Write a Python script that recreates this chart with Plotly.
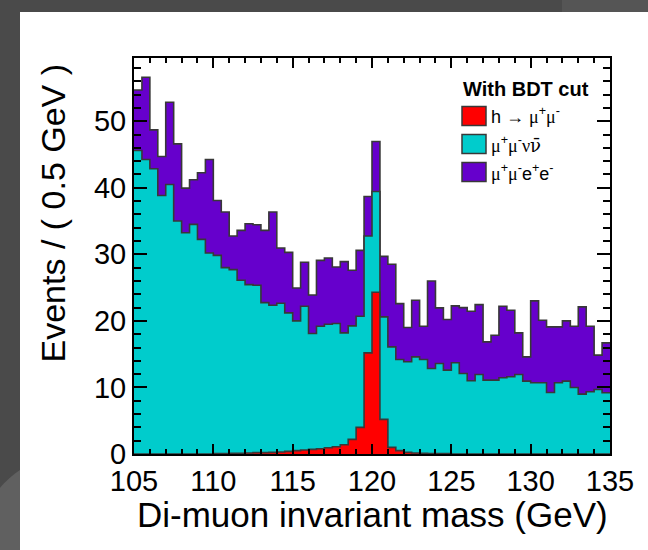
import numpy as np
import plotly.graph_objects as go

# ---------------- data (0.5 GeV bins, 105-135 GeV) ----------------
bin_low = 105.0
bin_width = 0.5
signal_h_mumu = [0, 0, 0, 0, 0, 0, 0, 0, 0, 0,
                 0.05, 0.05, 0.1, 0.1, 0.15, 0.2, 0.2, 0.25, 0.3, 0.4,
                 0.5, 0.6, 0.7, 0.8, 0.95, 1.1, 1.4, 2.2, 4.0, 15.2,
                 24.3, 5.2, 1.0, 0.5, 0.25, 0.15, 0.1, 0.05, 0.05, 0.05,
                 0, 0, 0, 0, 0, 0, 0, 0, 0, 0,
                 0, 0, 0, 0, 0, 0, 0, 0, 0, 0]
# cumulative top of (signal + mu mu nu nu)
cyan_top = [45.6, 44.25, 42.85, 38.85, 40.5, 35.0, 33.25, 34.5, 32.25, 30.2,
            29.85, 28.0, 27.7, 26.1, 25.45, 25.35, 22.75, 22.35, 22.65, 21.2,
            20.0, 22.2, 18.1, 19.2, 19.5, 19.6, 18.2, 19.25, 20.7, 32.75,
            39.45, 20.6, 16.1, 14.2, 13.85, 14.6, 14.2, 12.85, 13.6, 12.6,
            13.7, 12.1, 11.0, 11.95, 11.1, 11.1, 11.45, 11.6, 11.95, 10.95,
            10.7, 10.7, 9.25, 10.7, 10.95, 10.0, 9.0, 9.35, 9.7, 9.2]
# total stack height
total_top = [54.7, 56.6, 48.7, 44.7, 52.85, 46.6, 39.95, 41.2, 42.25, 44.25,
             38.1, 36.35, 32.75, 33.6, 34.6, 34.45, 33.6, 36.35, 30.95, 30.3,
             24.95, 28.8, 23.9, 29.1, 29.45, 28.1, 28.9, 27.6, 30.6, 38.7,
             46.95, 29.7, 28.5, 22.6, 19.0, 23.1, 19.2, 26.0, 21.95, 20.2,
             22.25, 22.0, 21.45, 22.45, 16.85, 17.85, 22.2, 21.6, 18.2, 14.6,
             23.0, 20.1, 19.1, 19.1, 20.0, 19.2, 22.1, 19.2, 14.85, 16.7]
bkg_mumununu = list(np.round(np.array(cyan_top) - np.array(signal_h_mumu), 3))
bkg_mumuee = list(np.round(np.array(total_top) - np.array(cyan_top), 3))

GR = "<span style=\"font-family:'Liberation Serif'\">"
NB = "<span style=\"font-family:'DejaVu Serif'\">"
series_names = [f"h \u2192 {GR}\u03bc</span><sup>+</sup>{GR}\u03bc</span><sup>-</sup>",
                f"{GR}\u03bc</span><sup>+</sup>{GR}\u03bc</span><sup>-</sup>{GR}\u03bd</span>{NB}\u03bd\u0304</span>",
                f"{GR}\u03bc</span><sup>+</sup>{GR}\u03bc</span><sup>-</sup>e<sup>+</sup>e<sup>-</sup>"]
legend_title = "<b>With BDT cut</b>"
x_title = "Di-muon invariant mass (GeV)"
y_title = "Events / ( 0.5 GeV )"

# ---------------- styling ----------------
W, H = 648, 550
ML, MR, MT, MB = 134, 38, 58, 96
colors = ["#ff0000", "#00cccc", "#6600cc"]
outline = "#383838"
FONT = "Liberation Sans, Arial, Helvetica, sans-serif"

nb = len(signal_h_mumu)
edges = bin_low + bin_width * np.arange(nb + 1)

s1 = np.array(signal_h_mumu, dtype=float)
s2 = s1 + np.array(bkg_mumununu, dtype=float)
s3 = s2 + np.array(bkg_mumuee, dtype=float)


def step(y):
    return list(y) + [y[-1]]


fig = go.Figure()
for cum, col, name in [(s3, colors[2], series_names[2]),
                       (s2, colors[1], series_names[1]),
                       (s1, colors[0], series_names[0])]:
    fig.add_trace(go.Scatter(
        x=edges, y=step(cum), mode="lines", line_shape="hv",
        line=dict(color=outline, width=1.6),
        fill="tozeroy", fillcolor=col, name=name, showlegend=False,
        hoverinfo="skip"))

pw = W - ML - MR
ph = H - MT - MB


def px(xp):
    return (xp - ML) / pw


def py(yp):
    return 1 - (yp - MT) / ph


shapes = [
    # white slide panel
    dict(type="rect", xref="paper", yref="paper", layer="below",
         x0=px(20), x1=px(W + 5), y0=py(H + 5), y1=py(12),
         fillcolor="white", line=dict(width=0)),
    # lighter gray swoosh lower-left
    dict(type="path", xref="paper", yref="paper", layer="below",
         path=f"M {px(-2)},{py(490)} Q {px(8)},{py(478)} {px(20)},{py(470)} "
              f"L {px(20)},{py(H + 5)} L {px(-2)},{py(H + 5)} Z",
         fillcolor="#606060", line=dict(width=0)),
    # lighter top-right corner
    dict(type="rect", xref="paper", yref="paper", layer="below",
         x0=px(562), x1=px(W + 5), y0=py(12), y1=py(-5),
         fillcolor="#555555", line=dict(width=0)),
]

annotations = []
# legend
leg_x0 = 462
annotations.append(dict(xref="paper", yref="paper", x=px(leg_x0 - 1), y=py(89),
                        xanchor="left", yanchor="middle", text=legend_title,
                        showarrow=False, font=dict(size=20, color="black", family=FONT)))
for i, (name, col) in enumerate(zip(series_names, colors)):
    yc = 116 + 28 * i
    shapes.append(dict(type="rect", xref="paper", yref="paper",
                       x0=px(leg_x0), x1=px(leg_x0 + 24),
                       y0=py(yc + 9.5), y1=py(yc - 9.5),
                       fillcolor=col, line=dict(color=outline, width=1.5)))
    annotations.append(dict(xref="paper", yref="paper", x=px(leg_x0 + 27), y=py(yc),
                            xanchor="left", yanchor="middle", text=name,
                            showarrow=False,
                            font=dict(size=18, color="black", family=FONT)))

# axis titles (ROOT style: aligned to the axis end)
annotations.append(dict(xref="paper", yref="paper", x=1, y=0, xanchor="right",
                        yanchor="top", yshift=-39, text=x_title, showarrow=False,
                        font=dict(size=35, color="black", family=FONT)))
annotations.append(dict(xref="paper", yref="paper", x=0, y=1, xanchor="right",
                        yanchor="top", xshift=-61, yshift=-3, text=y_title,
                        textangle=-90, showarrow=False,
                        font=dict(size=34, color="black", family=FONT)))

fig.update_layout(
    width=W, height=H,
    margin=dict(l=ML, r=MR, t=MT, b=MB),
    paper_bgcolor="#4a4a4a", plot_bgcolor="white",
    showlegend=False,
    shapes=shapes, annotations=annotations,
    font=dict(family=FONT, color="black"),
)
fig.update_xaxes(range=[105, 135], dtick=5, tick0=105, ticks="inside", ticklen=10,
                 tickwidth=1.5, tickcolor="black", mirror="allticks",
                 showline=True, linecolor="black", linewidth=2, showgrid=False,
                 zeroline=False, tickfont=dict(size=29, family=FONT),
                 minor=dict(dtick=1, ticks="inside", ticklen=5, tickwidth=1.5,
                            tickcolor="black", showgrid=False))
fig.update_yaxes(range=[0, 59.5], dtick=10, ticks="inside", ticklen=13,
                 tickwidth=1.5, tickcolor="black", mirror="allticks",
                 showline=True, linecolor="black", linewidth=2, showgrid=False,
                 zeroline=False, tickfont=dict(size=29, family=FONT),
                 minor=dict(dtick=2, ticks="inside", ticklen=7, tickwidth=1.5,
                            tickcolor="black", showgrid=False))

fig.write_html("out.html", config={"displayModeBar": False},
               post_script="document.body.style.margin='0px';")
